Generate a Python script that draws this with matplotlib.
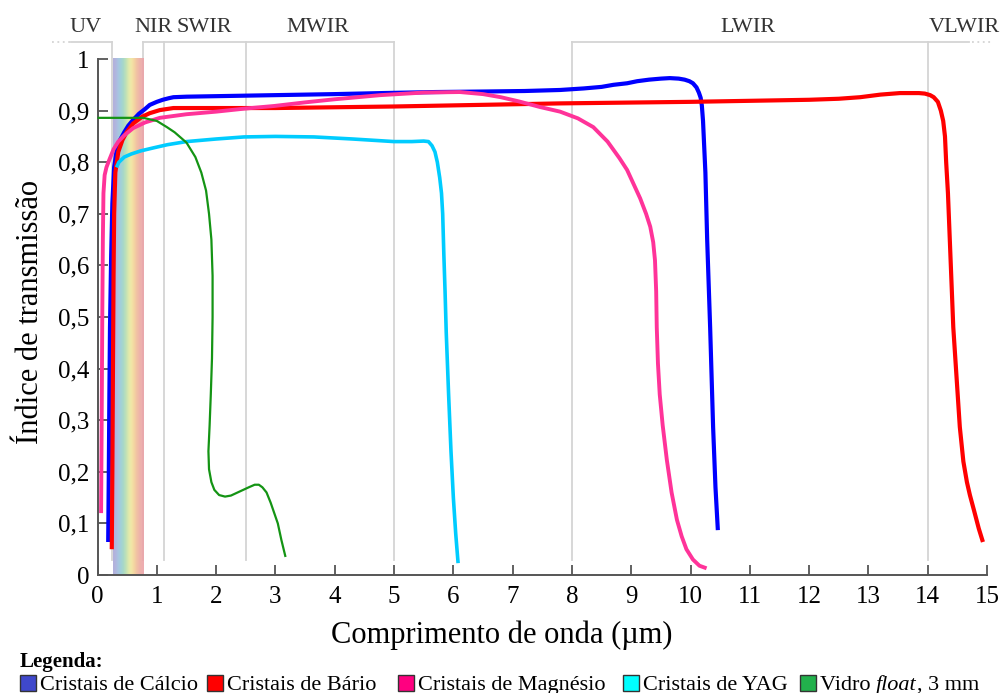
import numpy as np
import matplotlib.pyplot as plt
import matplotlib.patches as patches

plt.rcParams['font.family'] = ['Liberation Serif', 'DejaVu Serif']

# --- dados ---
calcio_x = [0.18, 0.19, 0.20, 0.21, 0.23, 0.25, 0.28, 0.32, 0.38, 0.45, 0.52, 0.6, 0.7, 0.8, 0.88,
            1.0, 1.1, 1.2, 1.28, 1.5, 2.0, 3.0, 4.0, 4.8, 5.7, 6.5, 7.2, 7.8, 8.2, 8.5, 8.7, 8.93,
            9.1, 9.3, 9.5, 9.65, 9.8, 9.9, 9.98, 10.04, 10.1, 10.14, 10.17, 10.19, 10.21, 10.23,
            10.25, 10.28, 10.33, 10.38, 10.42, 10.46]
calcio_y = [0.064, 0.2, 0.35, 0.48, 0.62, 0.72, 0.79, 0.82, 0.843, 0.858, 0.871, 0.882, 0.894,
            0.903, 0.911, 0.917, 0.921, 0.924, 0.926, 0.927, 0.928, 0.93, 0.932, 0.934, 0.936,
            0.937, 0.938, 0.94, 0.943, 0.946, 0.95, 0.953, 0.957, 0.96, 0.962, 0.963, 0.962, 0.96,
            0.957, 0.953, 0.945, 0.935, 0.925, 0.91, 0.88, 0.83, 0.78, 0.65, 0.48, 0.287, 0.17,
            0.087]

bario_x = [0.24, 0.25, 0.26, 0.27, 0.28, 0.3, 0.35, 0.42, 0.49, 0.6, 0.75, 0.88, 1.05, 1.28, 2.0,
           3.0, 5.0, 7.8, 10.0, 12.0, 12.5, 12.86, 13.2, 13.53, 13.85, 13.95, 14.04, 14.1, 14.17,
           14.22, 14.26, 14.29, 14.31, 14.34, 14.43, 14.54, 14.6, 14.66, 14.71, 14.78, 14.86,
           14.93]
bario_y = [0.05, 0.2, 0.4, 0.58, 0.7, 0.78, 0.82, 0.843, 0.858, 0.875, 0.888, 0.895, 0.901, 0.905,
           0.905, 0.905, 0.908, 0.914, 0.917, 0.921, 0.923, 0.926, 0.931, 0.934, 0.934, 0.933,
           0.930, 0.926, 0.917, 0.90, 0.88, 0.85, 0.80, 0.74, 0.48, 0.287, 0.22, 0.18, 0.155,
           0.125, 0.09, 0.064]

magnesio_x = [0.06, 0.07, 0.08, 0.09, 0.1, 0.12, 0.15, 0.2, 0.27, 0.35, 0.45, 0.6, 0.8, 1.05,
              1.5, 2.0, 2.49, 2.98, 3.5, 4.0, 4.77, 5.5, 6.11, 6.5, 6.8, 7.1, 7.46, 7.8, 8.1, 8.36,
              8.6, 8.8, 8.93, 9.05, 9.15, 9.25, 9.32, 9.37, 9.4, 9.42, 9.43, 9.45, 9.48, 9.53, 9.6,
              9.68, 9.77, 9.85, 9.93, 10.04, 10.15, 10.27]
magnesio_y = [0.12, 0.3, 0.5, 0.65, 0.74, 0.775, 0.79, 0.805, 0.825, 0.84, 0.852, 0.866, 0.877,
              0.886, 0.893, 0.898, 0.904, 0.909, 0.916, 0.922, 0.93, 0.935, 0.936, 0.932, 0.926,
              0.918, 0.907, 0.898, 0.885, 0.868, 0.84, 0.808, 0.785, 0.755, 0.73, 0.70, 0.675,
              0.645, 0.61, 0.55, 0.48, 0.41, 0.35, 0.29, 0.223, 0.16, 0.107, 0.075, 0.05, 0.03,
              0.018, 0.013]

yag_x = [0.32, 0.36, 0.45, 0.57, 0.73, 0.95, 1.18, 1.5, 2.0, 2.47, 3.0, 3.65, 4.3, 5.0, 5.3, 5.5,
         5.58, 5.64, 5.69, 5.73, 5.77, 5.8, 5.82, 5.84, 5.86, 5.88, 5.92, 5.96, 6.0, 6.04, 6.08]
yag_y = [0.79, 0.80, 0.81, 0.816, 0.822, 0.828, 0.834, 0.84, 0.845, 0.849, 0.85, 0.849, 0.845,
         0.84, 0.84, 0.841, 0.84, 0.832, 0.82, 0.80, 0.77, 0.74, 0.70, 0.62, 0.55, 0.47, 0.35,
         0.24, 0.15, 0.08, 0.023]

vidro_x = [0.0, 0.77, 1.0, 1.17, 1.3, 1.5, 1.65, 1.75, 1.83, 1.88, 1.92, 1.94, 1.94, 1.93, 1.91,
           1.89, 1.87, 1.88, 1.92, 1.97, 2.05, 2.15, 2.25, 2.4, 2.55, 2.65, 2.72, 2.78, 2.85, 2.92,
           2.98, 3.04, 3.1, 3.17]
vidro_y = [0.886, 0.886, 0.88, 0.868, 0.858, 0.838, 0.81, 0.78, 0.745, 0.70, 0.65, 0.58, 0.50,
           0.42, 0.35, 0.29, 0.24, 0.205, 0.18, 0.165, 0.155, 0.152, 0.154, 0.162, 0.17, 0.175,
           0.175, 0.17, 0.16, 0.14, 0.12, 0.10, 0.068, 0.035]

# faixas espectrais
faixa_nomes = ['UV', 'NIR', 'SWIR', 'MWIR', 'LWIR', 'VLWIR']
faixa_pos = [-0.2, 0.95, 1.8, 3.72, 10.97, 14.62]
limites = [0.24, 0.77, 1.12, 2.5, 5.0, 8.0, 14.0]

x_ticks = list(range(0, 16))
y_ticks = [0, 0.1, 0.2, 0.3, 0.4, 0.5, 0.6, 0.7, 0.8, 0.9, 1.0]
y_labels = ['0', '0,1', '0,2', '0,3', '0,4', '0,5', '0,6', '0,7', '0,8', '0,9', '1']

arco_iris = ['#aba7d8', '#9cc3e3', '#93d2c8', '#bfe0a8', '#f3ee9f', '#f3cf95', '#eeb09c', '#eba3a8']

series = [
    ('Cristais de Cálcio', calcio_x, calcio_y, '#0000ff', 3.0, '#3f48cc'),
    ('Cristais de Bário', bario_x, bario_y, '#ff0000', 3.0, '#ff0000'),
    ('Cristais de Magnésio', magnesio_x, magnesio_y, '#ff3399', 2.8, '#ff0080'),
    ('Cristais de YAG', yag_x, yag_y, '#00ccff', 2.6, '#00ffff'),
    ('Vidro float, 3 mm', vidro_x, vidro_y, '#149414', 1.6, '#22b14c'),
]

fig = plt.figure(figsize=(10.03, 6.93), dpi=100)
ax = fig.add_axes([0.01446, 0.1479, 0.9815, 0.8414])
ax.set_xlim(-1.4, 15.2)
ax.set_ylim(-0.03, 1.1)

GRID = '#d4d4d4'
# linhas das faixas
for xv in limites:
    ax.plot([xv, xv], [0.03, 1.033], color=GRID, lw=1.3, zorder=1, clip_on=False)
ax.plot([-0.45, 0.24], [1.033, 1.033], color=GRID, lw=1.3, clip_on=False)
ax.plot([-0.77, -0.47], [1.033, 1.033], color=GRID, lw=1.3, ls=(0, (1, 2)), clip_on=False)
ax.plot([0.77, 5.0], [1.033, 1.033], color=GRID, lw=1.3, clip_on=False)
ax.plot([8.0, 14.7], [1.033, 1.033], color=GRID, lw=1.3, clip_on=False)
ax.plot([14.75, 15.1], [1.033, 1.033], color=GRID, lw=1.3, ls=(0, (1, 2)), clip_on=False)

for nome, xp in zip(faixa_nomes, faixa_pos):
    ax.text(xp, 1.062, nome, ha='center', va='center', fontsize=16, color='#333333')

# faixa do visível
img = np.array([[plt.matplotlib.colors.to_rgb(c) for c in arco_iris]])
ax.imshow(img, extent=[0.26, 0.77, 0, 1.0], aspect='auto', interpolation='bicubic',
          alpha=0.9, zorder=2)

for nome, xs, ys, cor, lw, _ in series:
    ax.plot(xs, ys, color=cor, lw=lw, zorder=3, solid_capstyle='butt', solid_joinstyle='round')

# eixos
for s in ['top', 'right']:
    ax.spines[s].set_visible(False)
ax.spines['left'].set_position(('data', 0))
ax.spines['bottom'].set_position(('data', 0))
ax.spines['left'].set_bounds(0, 1)
ax.spines['bottom'].set_bounds(0, 15)
for s in ['left', 'bottom']:
    ax.spines[s].set_color('#555555')
    ax.spines[s].set_linewidth(1.4)
ax.set_xticks(x_ticks)
ax.set_xticklabels([str(v) for v in x_ticks], fontsize=18)
ax.set_yticks(y_ticks)
ax.set_yticklabels(y_labels, fontsize=18)
ax.tick_params(direction='in', length=7, width=1.3, color='#555555', pad=6)
ax.tick_params(axis='x', pad=8)

fig.text(0.5, 0.083, 'Comprimento de onda (µm)', ha='center', va='center', fontsize=22)
fig.text(0.03, 0.55, 'Índice de transmissão', ha='center', va='center', rotation=90, fontsize=22)

# legenda
fig.text(20 / 1003, 1 - 667 / 693, 'Legenda:', fontsize=15, fontweight='bold', va='baseline')
quad_x = [20, 207, 398, 623, 800]
y_base = 1 - 690 / 693
fig.canvas.draw()
r = fig.canvas.get_renderer()
for (nome, xs, ys, cor, lw, cor_leg), qx in zip(series, quad_x):
    fig.patches.append(patches.Rectangle((qx / 1003, 1 - 691 / 693), 16 / 1003, 16 / 693,
                                         transform=fig.transFigure, facecolor=cor_leg,
                                         edgecolor='#333333', lw=1.0))
    tx = (qx + 20) / 1003
    if 'float' in nome:
        partes = [('Vidro ', 'normal'), ('float', 'italic'), (', 3 mm', 'normal')]
    else:
        partes = [(nome, 'normal')]
    for texto, estilo in partes:
        t = fig.text(tx, y_base, texto, fontsize=16, style=estilo, va='baseline')
        bb = t.get_window_extent(renderer=r)
        tx += bb.width / fig.bbox.width

fig.savefig('out.png', dpi=100)
